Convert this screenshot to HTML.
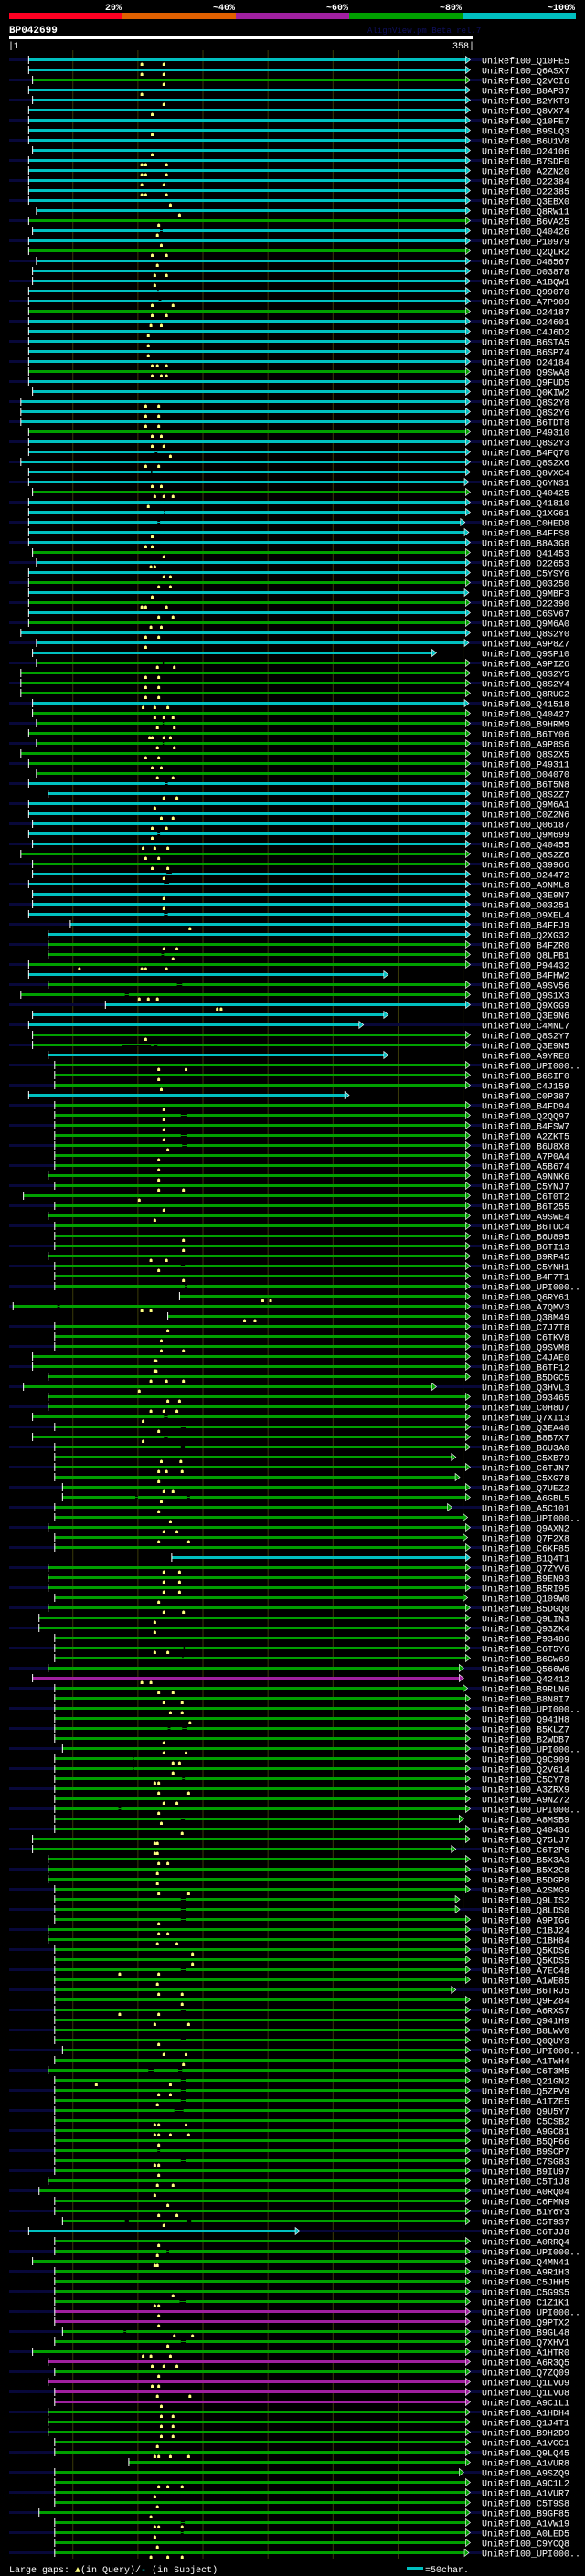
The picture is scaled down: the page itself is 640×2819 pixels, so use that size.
<!DOCTYPE html>
<html><head><meta charset="utf-8">
<style>
html,body{margin:0;padding:0;background:#000;}
svg{display:block;}
text{font-family:"Liberation Mono","DejaVu Sans Mono",monospace;}
</style></head>
<body>
<svg id="chart" width="640" height="2819" viewBox="0 0 640 2819" xmlns="http://www.w3.org/2000/svg">
  <rect x="0" y="0" width="640" height="2819" fill="#000"/>
  <g>
    <rect x="10" y="14" width="124" height="7" fill="#ff0022"/>
    <rect x="134" y="14" width="124" height="7" fill="#e06000"/>
    <rect x="258" y="14" width="124" height="7" fill="#a020a0"/>
    <rect x="382" y="14" width="124" height="7" fill="#00a000"/>
    <rect x="506" y="14" width="124" height="7" fill="#00c0c0"/>
    <g fill="#fff" font-size="10" font-weight="bold" text-anchor="end">
      <text x="133" y="11">20%</text>
      <text x="257" y="11">~40%</text>
      <text x="381" y="11">~60%</text>
      <text x="505" y="11">~80%</text>
      <text x="629" y="11">~100%</text>
    </g>
  </g>
  <text x="10" y="36" fill="#fff" font-size="11" font-weight="bold">BP042699</text>
  <text x="402" y="36" fill="#101060" font-size="9">AlignView.pm Beta rel.7</text>
  <rect x="10" y="39" width="508" height="4" fill="#fff"/>
  <text x="9" y="53" fill="#fff" font-size="10">|1</text>
  <text x="519" y="53" fill="#fff" font-size="10" text-anchor="end">358|</text>
  <g id="grid"></g>
  <g id="rows"></g>
  <g>
    <text x="10" y="2815" fill="#fff" font-size="10">Large gaps: <tspan fill="#ffff80">▲</tspan>(in Query)/<tspan fill="#00c0c0">-</tspan> (in Subject)</text>
    <rect x="445" y="2809" width="18" height="3" fill="#00c0c0"/>
    <text x="465" y="2815" fill="#fff" font-size="10">=50char.</text>
  </g>
</svg>
<script>
const NS = "http://www.w3.org/2000/svg";
const qLen = 358;
const gridTicks = [50,100,150,200,250,300,350];
const names = ["Q10FE5","Q6ASX7","Q2VCI6","B8AP37","B2YKT9","Q8VX74","Q10FE7","B9SLQ3","B6U1V8","O24106",
"B7SDF0","A2ZN20","O22384","O22385","Q3EBX0","Q8RW11","B6VA25","Q40426","P10979","Q2QLR2",
"O48567","O03878","A1BQW1","Q99070","A7P909","O24187","O24601","C4J6D2","B6STA5","B6SP74",
"O24184","Q9SWA8","Q9FUD5","Q0KIW2","Q8S2Y8","Q8S2Y6","B6TDT8","P49310","Q8S2Y3","B4FQ70",
"Q8S2X6","Q8VXC4","Q6YNS1","Q40425","Q41810","Q1XG61","C0HED8","B4FFS8","B8A3G8","Q41453",
"O22653","C5YSY6","Q03250","Q9MBF3","O22390","C6SV67","Q9M6A0","Q8S2Y0","A9P8Z7","Q9SP10",
"A9PIZ6","Q8S2Y5","Q8S2Y4","Q8RUC2","Q41518","Q40427","B9HRM9","B6TY06","A9P8S6","Q8S2X5",
"P49311","O04070","B6T5N8","Q8S2Z7","Q9M6A1","C0Z2N6","Q06187","Q9M699","Q40455","Q8S2Z6",
"Q39966","O24472","A9NML8","Q3E9N7","O03251","O9XEL4","B4FFJ9","Q2XG32","B4FZR0","Q8LPB1",
"P94432","B4FHW2","A9SV56","Q9S1X3","Q9XGG9","Q3E9N6","C4MNL7","Q8S2Y7","Q3E9N5","A9YRE8",
"UPI000..","B6SIF0","C4J159","C0P387","B4FD94","Q2QQ97","B4FSW7","A2ZKT5","B6U8X8","A7P0A4",
"A5B674","A9NNK6","C5YNJ7","C6T0T2","B6T255","A9SWE4","B6TUC4","B6U895","B6TI13","B9RP45",
"C5YNH1","B4F7T1","UPI000..","Q6RY61","A7QMV3","Q38M49","C7J7T8","C6TKV8","Q9SVM8","C4JAE0",
"B6TF12","B5DGC5","Q3HVL3","O93465","C0H8U7","Q7XI13","Q3EA40","B8B7X7","B6U3A0","C5XB79",
"C6TJN7","C5XG78","Q7UEZ2","A6GBL5","A5C101","UPI000..","Q9AXN2","Q7F2X8","C6KF85","B1Q4T1",
"Q7ZYV6","B9EN93","B5RI95","Q109W0","B5DGQ0","Q9LIN3","Q93ZK4","P93486","C6T5Y6","B6GW69",
"Q566W6","Q42412","B9RLN6","B8N8I7","UPI000..","Q941H8","B5KLZ7","B2WDB7","UPI000..","Q9C909",
"Q2V614","C5CY78","A3ZRX9","A9NZ72","UPI000..","A8MSB9","Q40436","Q75LJ7","C6T2P6","B5X3A3",
"B5X2C8","B5DGP8","A2SMG9","Q9LIS2","Q8LDS0","A9PIG6","C1BJ24","C1BH84","Q5KDS6","Q5KDS5",
"A7EC48","A1WE85","B6TRJ5","Q9FZ84","A6RXS7","Q941H9","B8LWV0","Q0QUY3","UPI000..","A1TWH4",
"C6T3M5","Q21GN2","Q5ZPV9","A1TZE5","Q9U5Y7","C5CSB2","A9GC81","B5QF66","B9SCP7","C7SG83",
"B9IU97","C5T1J8","A0RQ04","C6FMN9","B1Y6Y3","C5T9S7","C6TJJ8","A0RRQ4","UPI000..","Q4MN41",
"A9R1H3","C5JHH5","C5G9S5","C1Z1K1","UPI000..","Q9PTX2","B9GL48","Q7XHV1","A1HTR0","A6R3Q5",
"Q7ZQ09","Q1LVU9","Q1LVU8","A9C1L1","A1HDH4","Q1J4T1","B9H2D9","A1VGC1","Q9LQ45","A1VUR8",
"A9SZQ9","A9C1L2","A1VUR7","C5T9S8","B9GF85","A1VW19","A0LED5","C9YCQ8","UPI000.."];
const colorCodes = ("CCGCCCCCCC"+"CCCCCCGCCG"+"CCCCCGCCCC"+"CGCCCCCGCC"+"CCCGCCCCCG"+
"CCGCGCGCCC"+"GGGGCGGGGG"+"GGCCCCCCCG"+"GCCCCCCCGG"+"GCGGCCCGGC"+
"GGGCGGGGGG"+"GGGGGGGGGG"+"GGGGGGGGGG"+"GGGGGGGGGG"+"GGGGGGGGGC"+
"GGGGGGGGGG"+"GMGGGGGGGG"+"GGGGGGGGGG"+"GGGGGGGGGG"+"GGGGGGGGGG"+
"GGGGGGGGGG"+"GGGGGGCGGG"+"GGGGMMGGGM"+"GMMMGGGGGG"+"GGGGGGGGG").split("");
const starts = [16,16,19,16,19,16,16,16,16,19, 16,16,16,16,16,22,16,19,16,16,
22,19,19,16,16,16,16,16,16,16, 16,16,16,19,10,10,10,16,16,16,
10,16,16,19,16,16,16,16,16,19, 22,16,16,16,16,16,16,10,22,19,
22,10,10,10,19,19,22,16,22,10, 16,22,16,31,16,16,19,16,19,10,
19,19,16,19,19,16,48,31,31,31, 16,16,31,10,75,19,16,19,19,31,
36,36,36,16,36,36,36,36,36,36, 36,31,36,12,36,31,36,36,36,31,
36,36,36,132,4,123,36,36,36,19, 19,31,12,31,31,19,36,19,36,36,
36,36,42,42,36,36,31,36,36,126, 31,31,31,36,31,24,24,36,36,36,
31,19,36,36,36,36,36,36,42,36, 36,36,36,36,36,36,36,19,19,31,
31,31,36,36,36,36,31,31,36,36, 36,36,36,36,36,36,36,36,42,36,
31,36,36,36,36,36,36,36,36,36, 36,31,24,36,36,42,16,36,36,19,
36,36,36,36,36,36,42,36,19,31, 36,31,36,36,31,31,31,36,36,93,
36,36,36,36,24,36,36,36,36];
const ends = [352,352,352,352,352,352,352,352,352,352, 352,352,352,352,352,352,352,352,352,352,
352,352,352,352,352,352,352,352,352,352, 352,352,352,352,352,352,352,352,352,352,
352,352,351,352,352,352,348,351,352,352, 352,352,352,351,352,352,352,352,351,326,
352,352,352,352,351,352,352,352,352,352, 352,352,352,352,352,352,352,352,352,352,
352,352,352,352,352,352,352,352,352,352, 352,289,352,352,352,289,270,352,352,289,
352,352,352,259,352,352,352,352,352,352, 352,352,352,352,352,352,352,352,352,352,
352,352,352,352,352,352,352,352,352,352, 352,352,326,352,352,352,352,352,352,341,
352,344,352,352,338,350,352,350,352,352, 352,352,352,350,352,352,352,352,352,352,
347,347,350,352,352,352,352,352,352,352, 352,352,352,352,352,347,352,352,341,352,
352,352,352,344,344,352,352,352,352,352, 352,352,341,352,352,352,352,352,352,352,
352,352,352,352,352,352,352,352,352,352, 352,352,352,352,352,352,221,352,352,352,
352,352,352,352,352,352,352,352,352,352, 352,352,352,352,352,352,352,352,352,352,
347,352,352,352,352,352,352,352,351];
const inserts = [[103,120],[103,120],[120],[103],[120],[111],[],[111],[],[111],
[103,106,122],[103,106,122],[103,120],[103,106,122],[125],[132],[116],[115],[118],[111,122],
[115],[113,122],[113],[],[111,127],[111,122],[110,118],[108],[108],[108],
[111,115,122],[111,118,122],[],[],[106,116],[106,116],[106,116],[111,118],[111,120],[125],
[106,116],[],[111,118],[113,120,127],[108],[],[],[111],[106,111],[120],
[110,113],[120,125],[116,125],[111],[103,106,122],[116,127],[110,118],[106,116],[106],[],
[115,128],[106,116],[106,116],[106,116],[104,113,123],[113,120,127],[115,128],[109,111,120,125],[115,128],[106,116],
[111,118],[115,127],[],[120,130],[113],[118,127],[111,122],[111],[104,113,123],[106,116],
[111,123],[120],[],[120],[120],[],[140],[],[120,130],[127],
[55,103,106,122],[],[],[101,108,115],[161,164],[],[],[106],[],[],
[116,137],[116],[118],[],[120],[120],[120],[120],[123],[116],
[116],[116],[116,135],[101],[120],[113],[],[135],[135],[110,122],
[116],[135],[],[196,202],[103,110],[182,190],[123],[118],[118,135],[113,114],
[113,114],[110,122,135],[101],[123,132],[110,120,130],[104],[116],[104],[],[118,133],
[116,122,134],[116],[120,127],[118],[116],[125],[120,130],[116,139],[],[],
[120,132],[120,132],[120,132],[116],[120,135],[113],[113],[],[113,123],[],
[],[103,110],[116,127],[120,134],[125,134],[140],[],[120],[120,137],[127,132],
[127],[113,116],[116,139],[120,130],[116],[118],[134],[113,115],[113,115],[116,123],
[115],[115],[116,139],[],[],[116],[116,123],[115,130],[142],[142],
[86,116],[115],[116,134],[134],[86,116],[113,139],[],[116],[120,137],[135],
[],[68,125],[116,125],[115],[],[113,116,137],[113,116,125,139],[116],[],[113,116],
[116],[115,127],[113],[123],[116,130],[120],[],[116],[115],[113,115],
[],[],[127],[113,116],[116],[116],[128,142],[123],[104,110,125],[111,120,130],
[116],[111,116],[115,140],[118],[118,127],[118,127],[118,127],[115],[113,116,125,139],[],
[],[116,123,134],[113],[115],[110],[113,116,134],[113],[115],[110,123,134]];
const gaps = [[17,117,119],[23,115,116],[24,116,118],[39,113,115],[41,110,111],[45,120,121],[46,115,117],
[60,119,120],[66,119,120],[68,119,120],[72,121,123],[77,115,117],[81,122,126],[82,120,124],[85,120,123],
[89,118,120],[92,130,134],[93,90,93],[98,88,110],[98,112,115],[105,133,138],[107,133,138],[108,134,138],
[120,133,136],[122,136,138],[124,38,40],[135,120,123],[136,133,137],[137,120,123],[138,133,136],
[143,98,100],[143,138,140],[158,135,136],[159,134,135],[166,123,125],[166,134,138],[169,96,97],[170,96,97],
[171,134,136],[174,85,87],[175,133,136],[183,133,137],[184,133,137],[185,133,137],[190,133,137],[194,133,137],
[197,133,137],[200,108,112],[200,131,134],[201,133,137],[202,133,137],[203,133,137],[204,128,135],[208,115,117],
[209,133,137],[215,90,93],[215,138,141],[218,122,124],[223,132,137],[226,89,91],[227,133,137],[245,133,136],[246,133,135]];

const palette = {C:"#00c0c0", G:"#00a000", M:"#a020a0"};
function xScale(r){ return 10 + (r-1) * 508 / (qLen-1); }
function yRow(i){ return 65.5 + 11*i; }
function mk(tag, attrs, parent){ const e=document.createElementNS(NS,tag); for(const k in attrs) e.setAttribute(k, attrs[k]); parent.appendChild(e); return e; }

const grid = document.getElementById("grid");
gridTicks.forEach(t=>{
  const l = mk("line",{x1:xScale(t),x2:xScale(t),y1:55,y2:2800,stroke:"#3a3a08","stroke-width":1},grid);
  
  
});

const rowsG = document.getElementById("rows");
names.forEach((nm,i)=>{
  const y = yRow(i);
  const col = palette[colorCodes[i]];
  const g = mk("g",{},rowsG);
  
  
  const xs = xScale(starts[i]), xe = xScale(ends[i]);
  if(i%2===0){
    const nv = mk("rect",{x:10,y:y-1.5,width:517,height:3,fill:"#08083a"},g);
    
    
  }
  const bar = mk("rect",{x:xs,y:y-1.5,width:xe-xs,height:3,fill:col},g);
  
  
  gaps.filter(gp=>gp[0]===i).forEach(gp=>{
    const a=xScale(gp[1]), b=xScale(gp[2]);
    const cut = mk("rect",{x:a,y:y-1.5,width:b-a,height:3,fill:"#000"},g);
    
    
    const th = mk("rect",{x:a,y:y-0.5,width:b-a,height:1,fill:col},g);
    
    
  });
  const tick = mk("rect",{x:xs-0.5,y:y-4.5,width:1,height:9,fill:"#fff"},g);
  
  
  const ar = mk("polygon",{points:(xe)+","+(y-4)+" "+(xe+5)+","+y+" "+(xe)+","+(y+4),fill:col,stroke:"#fff","stroke-width":0.6},g);
  
  
  inserts[i].forEach(m=>{
    const mx = xScale(m);
    const p = mk("polygon",{points:(mx-1.5)+","+(y+6.5)+" "+(mx-1.5)+","+(y+4)+" "+(mx-0.5)+","+(y+3)+" "+(mx+0.5)+","+(y+3)+" "+(mx+1.5)+","+(y+4)+" "+(mx+1.5)+","+(y+6.5),fill:"#ffff80"},g);
    
    
  });
  const t = mk("text",{x:527,y:y+4,fill:"#fff","font-size":10},g);
  t.textContent = "UniRef100_" + nm;
  
  
});
</script>
</body></html>
